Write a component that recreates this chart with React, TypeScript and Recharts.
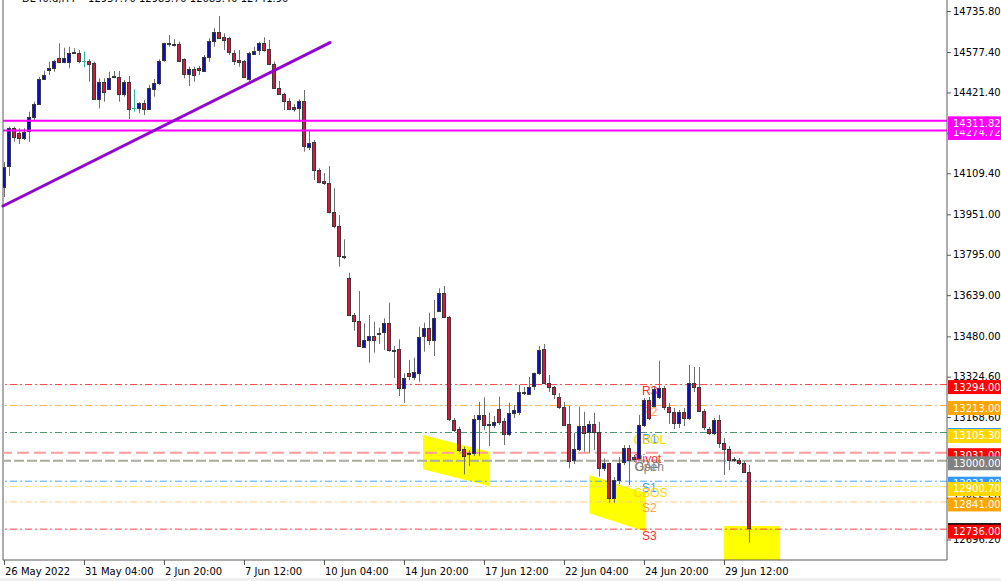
import React from 'react';
import {
  ComposedChart,
  Bar,
  Area,
  XAxis,
  YAxis,
  ReferenceLine,
  ReferenceArea,
  ReferenceDot,
} from 'recharts';

// ---------------- data (DE40 H4 candles) ----------------
const openP = [
  14057.7, 14134.9, 14283.2, 14263.9, 14248.4, 14270.0, 14325.6, 14377.0, 14473.5, 14508.2,
  14514.8, 14555.7, 14539.1, 14537.9, 14576.5, 14575.0, 14544.1, 14544.1, 14534.1, 14396.3,
  14463.0, 14434.9, 14483.1, 14482.3, 14415.6, 14460.7, 14360.4, 14360.4, 14379.7, 14360.4,
  14437.6, 14459.2, 14544.1, 14611.6, 14609.7, 14608.6, 14549.5, 14492.8, 14512.1, 14514.8,
  14505.5, 14559.5, 14621.3, 14656.0, 14634.4, 14630.6, 14575.0, 14546.8, 14542.9, 14473.5,
  14570.0, 14582.7, 14611.3, 14588.1, 14531.4, 14439.9, 14415.6, 14389.7, 14366.5, 14364.2,
  14389.7, 14212.1, 14231.4, 14122.2, 14080.9, 14073.2, 13961.2, 13906.0, 13791.0, 13706.5,
  13562.5, 13540.5, 13440.1, 13466.0, 13481.4, 13494.9, 13495.7, 13530.5, 13428.2, 13431.3,
  13280.7, 13337.5, 13324.3, 13341.3, 13478.7, 13511.2, 13466.0, 13579.1, 13648.6, 13553.6,
  13157.2, 13121.3, 13044.1, 13029.8, 13029.8, 13159.9, 13176.5, 13142.5, 13137.9, 13198.5,
  13154.5, 13105.9, 13184.2, 13189.2, 13266.1, 13260.3, 13285.7, 13337.5, 13430.1, 13298.9,
  13283.4, 13244.8, 13208.5, 13141.8, 13002.8, 13044.1, 13134.0, 13112.0, 13141.8, 13112.0,
  12974.6, 12990.1, 12855.0, 12925.6, 12992.4, 13048.0, 13014.4, 13009.4, 13137.9, 13234.4,
  13215.1, 13246.0, 13280.7, 13207.4, 13188.1, 13145.6, 13188.1, 13164.9, 13300.0, 13284.6,
  13191.9, 13122.5, 13107.0, 13157.2, 13068.4, 13045.3, 13006.7, 13002.8, 12991.2, 12957.7,
];
const highP = [
  14153.1, 14289.3, 14289.3, 14283.2, 14283.2, 14347.2, 14385.8, 14482.3, 14505.5, 14540.2,
  14546.8, 14611.3, 14594.3, 14598.1, 14592.0, 14585.4, 14578.8, 14549.5, 14540.2, 14476.2,
  14476.2, 14501.6, 14504.3, 14504.3, 14469.6, 14485.0, 14433.7, 14383.5, 14392.4, 14450.3,
  14473.5, 14549.5, 14613.6, 14643.3, 14626.7, 14617.4, 14553.4, 14520.9, 14520.9, 14523.6,
  14566.1, 14630.6, 14669.2, 14716.6, 14649.9, 14636.7, 14585.4, 14585.4, 14546.8, 14578.8,
  14598.1, 14617.4, 14634.4, 14624.0, 14540.2, 14465.7, 14420.6, 14399.0, 14377.0, 14395.1,
  14431.0, 14276.6, 14238.0, 14128.8, 14109.5, 14137.6, 14051.6, 13948.5, 13854.7, 13725.8,
  13570.2, 13655.1, 13530.5, 13562.5, 13536.6, 13513.5, 13549.8, 13610.0, 13442.8, 13468.7,
  13337.5, 13388.8, 13397.7, 13517.3, 13532.8, 13571.4, 13620.4, 13665.6, 13674.4, 13558.6,
  13164.9, 13131.3, 13054.1, 13041.4, 13176.5, 13227.8, 13244.8, 13185.4, 13172.6, 13247.1,
  13164.9, 13224.0, 13215.1, 13292.3, 13284.6, 13323.2, 13340.5, 13442.8, 13450.6, 13330.9,
  13288.4, 13261.4, 13226.7, 13211.2, 13108.2, 13208.5, 13189.2, 13154.5, 13185.4, 13150.6,
  13009.4, 12992.4, 12937.2, 13014.4, 13060.7, 13060.7, 13022.1, 13176.5, 13242.1, 13246.0,
  13284.6, 13386.1, 13288.4, 13222.8, 13203.5, 13195.8, 13203.5, 13369.5, 13361.8, 13361.8,
  13199.7, 13130.2, 13164.9, 13176.5, 13087.7, 13056.8, 13014.4, 13010.5, 12998.9, 12983.7,
];
const lowP = [
  14018.0, 14099.0, 14231.4, 14222.6, 14238.0, 14231.4, 14315.2, 14373.1, 14469.6, 14488.9,
  14501.6, 14537.1, 14534.1, 14514.8, 14570.0, 14534.1, 14518.6, 14463.0, 14392.4, 14360.4,
  14385.8, 14431.0, 14476.2, 14385.8, 14405.1, 14319.1, 14347.2, 14341.1, 14334.5, 14353.8,
  14405.1, 14450.3, 14540.2, 14598.1, 14598.1, 14540.2, 14476.2, 14446.4, 14463.0, 14488.9,
  14501.6, 14540.2, 14598.1, 14630.6, 14585.4, 14566.1, 14527.5, 14520.9, 14476.2, 14463.0,
  14566.1, 14566.1, 14578.8, 14527.5, 14437.6, 14411.7, 14353.8, 14353.8, 14347.2, 14308.6,
  14192.8, 14199.4, 14083.6, 14070.9, 14064.3, 13955.1, 13897.2, 13748.9, 13777.5, 13558.6,
  13501.9, 13440.1, 13435.1, 13378.4, 13417.0, 13450.6, 13427.4, 13420.8, 13319.3, 13249.8,
  13222.8, 13311.6, 13311.6, 13305.0, 13420.8, 13446.7, 13404.2, 13574.1, 13550.9, 13153.3,
  13110.9, 13033.7, 12947.6, 12979.6, 13018.2, 13018.2, 13118.6, 13056.8, 13126.3, 13137.9,
  13060.7, 13095.4, 13164.9, 13176.5, 13253.7, 13253.7, 13273.0, 13330.9, 13296.2, 13265.3,
  13238.3, 13199.7, 13137.9, 12970.8, 12987.4, 13037.5, 13034.8, 13031.0, 13041.4, 12938.3,
  12960.3, 12838.0, 12838.0, 12910.2, 12983.5, 12906.3, 12995.1, 13002.8, 13130.2, 13157.2,
  13207.4, 13238.3, 13195.8, 13142.5, 13122.5, 13126.3, 13134.0, 13157.2, 13265.3, 13188.1,
  13118.6, 13099.3, 13099.3, 13049.1, 12944.9, 12964.2, 12995.1, 12983.5, 12952.6, 12683.4,
];
const closeP = [
  14134.9, 14283.2, 14248.4, 14244.6, 14270.0, 14325.6, 14377.0, 14473.5, 14488.9, 14514.8,
  14542.9, 14540.2, 14553.4, 14572.7, 14575.4, 14544.1, 14544.1, 14534.1, 14396.3, 14463.0,
  14424.4, 14478.5, 14481.6, 14415.6, 14460.7, 14357.7, 14360.4, 14379.7, 14356.5, 14439.9,
  14459.2, 14544.1, 14611.3, 14610.1, 14607.8, 14544.1, 14492.8, 14512.1, 14488.9, 14505.5,
  14559.5, 14621.3, 14656.0, 14634.4, 14624.0, 14575.0, 14542.9, 14540.2, 14482.3, 14572.7,
  14582.7, 14611.3, 14585.4, 14531.4, 14439.9, 14415.6, 14389.7, 14360.4, 14360.4, 14389.7,
  14216.0, 14227.6, 14122.2, 14077.0, 14073.2, 13961.2, 13906.0, 13790.2, 13789.1, 13562.5,
  13540.5, 13442.8, 13466.0, 13481.4, 13466.0, 13493.4, 13530.5, 13424.7, 13426.6, 13280.7,
  13318.2, 13324.3, 13343.6, 13478.7, 13511.2, 13466.0, 13549.8, 13648.6, 13555.9, 13159.9,
  13118.6, 13041.4, 13018.2, 13027.5, 13159.9, 13176.5, 13137.9, 13141.0, 13150.6, 13146.8,
  13103.2, 13185.4, 13195.8, 13266.4, 13264.5, 13285.7, 13337.5, 13427.4, 13298.9, 13283.4,
  13256.4, 13207.4, 13140.6, 13000.1, 13044.1, 13134.0, 13108.2, 13141.8, 13110.9, 12974.6,
  12992.4, 12855.0, 12925.6, 12992.4, 13048.0, 13002.8, 13005.5, 13137.9, 13234.4, 13164.9,
  13278.8, 13280.7, 13207.4, 13188.1, 13145.6, 13188.1, 13164.9, 13300.0, 13284.6, 13191.9,
  13130.2, 13107.0, 13157.2, 13068.4, 13045.3, 13002.8, 13002.8, 12991.2, 12956.5, 12741.9,
];

// time axis
const timeTickBars = [0, 16, 32, 48, 64, 80, 96, 112, 128, 144];
const timeLabels = [
  '26 May 2022', '31 May 04:00', '2 Jun 20:00', '7 Jun 12:00', '10 Jun 04:00',
  '14 Jun 20:00', '17 Jun 12:00', '22 Jun 04:00', '24 Jun 20:00', '29 Jun 12:00',
];

// price axis grid ticks
const priceTicks = [
  14735.8, 14577.4, 14421.4, 14265.4, 14109.4, 13951.0, 13795.0, 13639.0,
  13480.0, 13324.6, 13168.6, 13012.6, 12856.6, 12696.2,
];

// pivot levels
const levelNames = ['R3', 'R2', 'R1', 'CBOL', 'Pivot', 'Open', 'S1', 'CBOS', 'S2', 'S3'];
const levelPrices = [13294.0, 13213.0, 13109.0, 13105.3, 13031.0, 13000.0, 12921.0, 12900.7, 12841.0, 12736.0];
const labelTexts = ['R3', 'R2', 'R1', 'CBOL', 'Pivot', 'Open', 'GAP', 'S1', 'CBOS', 'S2', 'S3'];
const labelPrices = [13294.0, 13213.0, 13109.0, 13105.3, 13031.0, 13000.0, 13000.0, 12921.0, 12900.7, 12841.0, 12736.0];
const labelBars = [127.6, 127.6, 127.6, 125.9, 126.1, 126.1, 126.2, 127.6, 125.9, 127.6, 127.6];

// horizontal support / resistance lines
const zonePrices = [14311.82, 14274.72];

// trend line (bar index, price)
const trendBars = [-0.2, 65.2];
const trendPrices = [13983.3, 14613.5];

// yellow zones
const zone1 = [
  { i: 83.8, band: [12966.9, 13099.3] },
  { i: 97.0, band: [12902.4, 13034.8] },
];
const zone2 = [
  { i: 117.06, band: [12797.1, 12944.9] },
  { i: 128.4, band: [12726.0, 12874.3] },
];
const zone3Bars = [144, 155.2];
const zone3Top = 12748.0;

const bars = openP.map((o, i) => ({
  i,
  o,
  h: highP[i],
  l: lowP[i],
  c: closeP[i],
  range: [lowP[i], highP[i]],
}));

const lastPrice = closeP[closeP.length - 1];

// right-axis price boxes (drawn in this order; later on top)
const boxPrices = [
  13294.0, 13213.0, 13109.0, 13105.3, 13031.0, 13000.0, 12921.0, 12900.7, 12841.0,
  lastPrice, 12736.0, 14274.72, 14311.82,
];

// ---------------- styling ----------------
const W = 1001;
const H = 581;
const AXIS_W = 54;
const AXIS_H = 21;
const PLOT_RIGHT = W - AXIS_W;
const PLOT_BOTTOM = H - AXIS_H;
const X_DOMAIN: [number, number] = [-0.2, 188.6];
const Y_DOMAIN: [number, number] = [12616.93, 14778.25];
const AXIS_COLOR = '#5a5a5a';
const FONT = 'DejaVu Sans, Verdana, sans-serif';
const LABEL_FONT = 'Liberation Sans, Arial, sans-serif';

const BOX_COLORS = [
  '#FF0000', '#FFA500', '#3399FF', '#FFD700', '#FF0000', '#808080', '#3399FF', '#FFD700',
  '#FFA500', '#000000', '#FF0000', '#FF00FF', '#FF00FF',
];

const LEVEL_STYLE: Record<string, { stroke: string; dash: string; w: number } | null> = {
  R3: { stroke: '#FF4040', dash: '7 3 2 3', w: 1 },
  R2: { stroke: '#FFB04A', dash: '7 3 2 3', w: 1 },
  R1: { stroke: '#4E9A6E', dash: '7 3 2 3', w: 1 },
  CBOL: null,
  Pivot: { stroke: '#FF9C9C', dash: '12 5', w: 2 },
  Open: { stroke: '#A8ADA0', dash: '10 3', w: 2 },
  S1: { stroke: '#4DA6FF', dash: '7 3 2 3', w: 1 },
  CBOS: { stroke: '#FFE27A', dash: '7 3 2 3', w: 1 },
  S2: { stroke: '#FFCB85', dash: '7 3 2 3', w: 1 },
  S3: { stroke: '#FF4040', dash: '7 3 2 3', w: 1 },
};

const LABEL_COLOR: Record<string, string> = {
  R3: '#FF2A2A',
  R2: '#FFA040',
  R1: '#3C9BFF',
  CBOL: '#FFD700',
  Pivot: '#FF3030',
  Open: '#858585',
  GAP: '#858585',
  S1: '#3C9BFF',
  CBOS: '#FFD700',
  S2: '#FFA040',
  S3: '#FF2A2A',
};

const BULL = '#0B0BD0';
const BEAR = '#DC143C';
const EDGE = '#3a3a3a';
const WICK = '#707070';
const DOJI = '#2AB5A5';

const Candle = (props: any) => {
  const { x, y, width, height, payload } = props;
  if (!payload || x == null || y == null) return null;
  const { o, h, l, c } = payload;
  const top = Math.min(y, y + height);
  const bot = Math.max(y, y + height);
  const span = h - l || 1;
  const py = (v: number) => top + ((h - v) / span) * (bot - top);
  const cx = Math.round(x + width / 2);
  const yo = py(o);
  const yc = py(c);
  if (o === c) {
    return (
      <g>
        <rect x={cx} y={top} width={1} height={Math.max(bot - top, 1)} fill={DOJI} />
        <rect x={cx - 2} y={Math.round(yo)} width={4} height={1} fill={DOJI} />
      </g>
    );
  }
  const bTop = Math.round(Math.min(yo, yc));
  const bH = Math.max(Math.round(Math.abs(yc - yo)), 1);
  return (
    <g>
      <rect x={cx} y={top} width={1} height={Math.max(bot - top, 1)} fill={WICK} />
      <rect
        x={cx - 1.5}
        y={bTop + 0.5}
        width={3}
        height={bH}
        fill={c > o ? BULL : BEAR}
        stroke={EDGE}
        strokeWidth={1}
      />
    </g>
  );
};

const PriceTick = (props: any) => {
  const { y, payload } = props;
  const v: number = payload.value;
  const bi = boxPrices.indexOf(v);
  if (bi >= 0) {
    return (
      <g>
        <rect x={PLOT_RIGHT + 1} y={y - 4.5} width={AXIS_W - 1} height={14} fill={BOX_COLORS[bi]} />
        <text x={PLOT_RIGHT + 6} y={y + 6} fill="#ffffff" fontSize={10} fontFamily={FONT}>
          {v.toFixed(2)}
        </text>
      </g>
    );
  }
  return (
    <g>
      <line x1={PLOT_RIGHT} x2={PLOT_RIGHT + 4} y1={y + 0.5} y2={y + 0.5} stroke={AXIS_COLOR} />
      <text x={PLOT_RIGHT + 6} y={y + 3.6} fill="#000000" fontSize={10} fontFamily={FONT}>
        {v.toFixed(2)}
      </text>
    </g>
  );
};

const TimeTick = (props: any) => {
  const { x, payload } = props;
  const idx = timeTickBars.indexOf(payload.value);
  const label = idx >= 0 ? timeLabels[idx] : '';
  const lx = Math.round(x);
  return (
    <g>
      <line x1={lx + 0.5} x2={lx + 0.5} y1={PLOT_BOTTOM} y2={PLOT_BOTTOM + 5} stroke={AXIS_COLOR} />
      <text x={lx + 1} y={PLOT_BOTTOM + 15} fill="#000000" fontSize={10} fontFamily={FONT}>
        {label}
      </text>
    </g>
  );
};

export default function App() {
  return (
    <div
      style={{
        position: 'absolute',
        left: 0,
        top: 0,
        width: W,
        height: H,
        background: '#ffffff',
        overflow: 'hidden',
      }}
    >
      <ComposedChart width={W} height={H} data={bars} margin={{ top: 0, right: 0, bottom: 0, left: 3 }}>
        <XAxis
          dataKey="i"
          type="number"
          domain={X_DOMAIN}
          allowDataOverflow
          ticks={timeTickBars}
          interval={0}
          tick={(p: any) => <TimeTick {...p} />}
          tickLine={false}
          axisLine={{ stroke: AXIS_COLOR }}
          height={AXIS_H}
        />
        <YAxis
          orientation="right"
          type="number"
          domain={Y_DOMAIN}
          allowDataOverflow
          ticks={[...priceTicks, ...boxPrices]}
          interval={0}
          tick={(p: any) => <PriceTick {...p} />}
          tickLine={false}
          axisLine={{ stroke: AXIS_COLOR }}
          width={AXIS_W}
        />

        <ReferenceLine x={X_DOMAIN[0]} stroke={AXIS_COLOR} strokeWidth={1} zIndex={5} />

        <ReferenceArea
          x1={zone3Bars[0]}
          x2={zone3Bars[1]}
          y1={Y_DOMAIN[0]}
          y2={zone3Top}
          fill="#FFFF00"
          fillOpacity={1}
          stroke="none"
          zIndex={10}
        />
        <Area
          data={zone1}
          dataKey="band"
          type="linear"
          stroke="none"
          fill="#FFFF00"
          fillOpacity={1}
          isAnimationActive={false}
          dot={false}
          activeDot={false}
          zIndex={20}
        />
        <Area
          data={zone2}
          dataKey="band"
          type="linear"
          stroke="none"
          fill="#FFFF00"
          fillOpacity={1}
          isAnimationActive={false}
          dot={false}
          activeDot={false}
          zIndex={20}
        />

        {levelNames.map((name, k) => {
          const st = LEVEL_STYLE[name];
          if (!st) return null;
          return (
            <ReferenceLine
              key={'lvl' + name}
              y={levelPrices[k]}
              stroke={st.stroke}
              strokeWidth={st.w}
              strokeDasharray={st.dash}
              zIndex={30}
            />
          );
        })}

        {labelTexts.map((t, k) => (
          <ReferenceDot
            key={'lab' + t}
            x={labelBars[k]}
            y={labelPrices[k]}
            r={0}
            zIndex={40}
            shape={(p: any) => (
              <text
                x={p.cx}
                y={p.cy + 10.5}
                fill={LABEL_COLOR[t]}
                fontSize={12}
                fontFamily={LABEL_FONT}
              >
                {t}
              </text>
            )}
          />
        ))}

        <Bar dataKey="range" barSize={5} shape={Candle} isAnimationActive={false} zIndex={50} />

        {zonePrices.map((p) => (
          <ReferenceLine key={'z' + p} y={p} stroke="#FF00FF" strokeWidth={2} zIndex={60} />
        ))}
        <ReferenceLine
          segment={[
            { x: trendBars[0], y: trendPrices[0] },
            { x: trendBars[1], y: trendPrices[1] },
          ]}
          stroke="#9400D3"
          strokeWidth={3}
          strokeLinecap="round"
          zIndex={60}
        />
      </ComposedChart>
      <div
        style={{
          position: 'absolute',
          left: 22,
          top: -7,
          fontFamily: FONT,
          fontSize: 10,
          lineHeight: '12px',
          whiteSpace: 'pre',
          color: '#000',
        }}
      >
        {'DE40.d,H4    12957.70 12983.70 12683.40 12741.90'}
      </div>
      <div
        style={{
          position: 'absolute',
          left: 0,
          top: 578,
          width: W,
          height: 3,
          background: '#f0f0f0',
        }}
      />
    </div>
  );
}
